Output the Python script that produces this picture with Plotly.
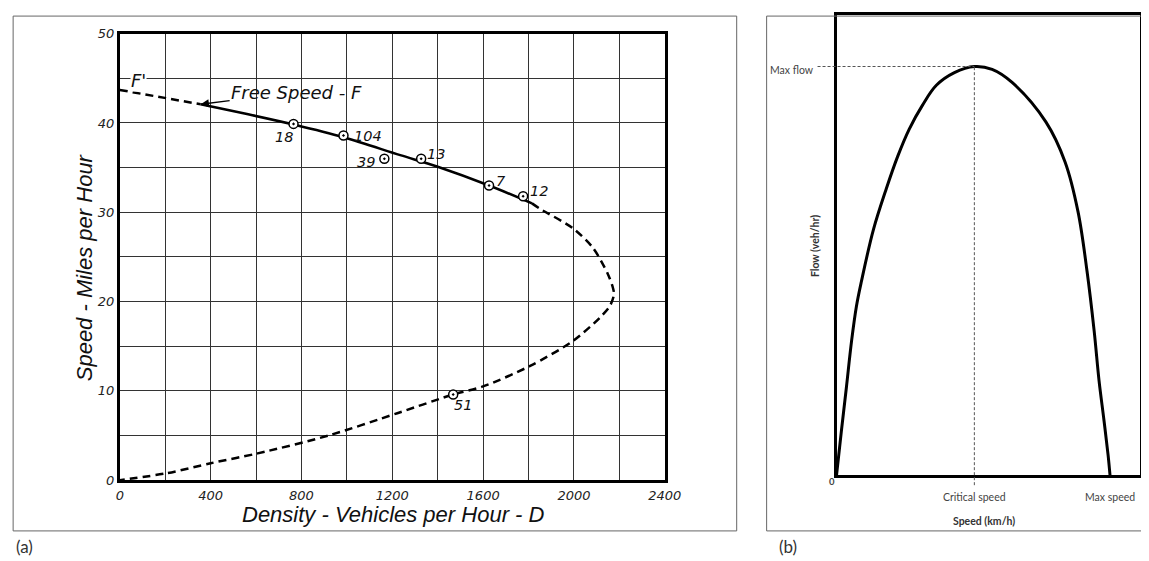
import plotly.graph_objects as go

# (a) Greenshields speed-density diagram
upper_density = [0, 356]
upper_speed = [43.7, 42.1]

solid_density = [356, 560, 770, 985, 1235, 1400, 1626, 1815]
solid_speed = [42.1, 41.0, 39.8, 38.4, 36.4, 35.1, 33.0, 31.0]

lower_density = [1815, 1850, 1996, 2084, 2149, 2172, 2176, 2158, 2114, 1996, 1807,
                 1600, 1468, 1222, 919, 607, 400, 211, 0]
lower_speed = [31.0, 30.4, 28.2, 26.0, 23.1, 21.5, 20.8, 19.5, 18.2, 15.6, 12.8,
               10.5, 9.6, 7.5, 5.0, 3.0, 1.9, 0.8, 0]

pt_labels = ["18", "104", "39", "13", "7", "12", "51"]
pt_density = [765, 985, 1165, 1327, 1626, 1776, 1468]
pt_speed = [39.9, 38.6, 36.0, 36.0, 33.0, 31.8, 9.6]

x_ticks = list(range(0, 2401, 200))
x_ticktext = [str(v) if v % 400 == 0 else "" for v in x_ticks]
y_ticks = list(range(0, 51, 5))
y_ticktext = [str(v) if v % 10 == 0 else "" for v in y_ticks]

# (b) flow-speed diagram
speed_b = [0, 1.8, 3.6, 5.5, 7.3, 9.1, 13.5, 18.2, 22.3, 26.6, 31.4, 36.5, 43.1,
           50.4, 56.9, 64.2, 76.6, 83.6, 88.3, 91.6, 94.2, 96.0, 97.8, 99.3, 100.0]
flow_b = [0, 10.9, 21.4, 32.8, 41.4, 47.4, 60.1, 70.1, 77.9, 84.7, 90.5, 95.4, 98.5,
          100, 99.3, 96.1, 86.4, 76.6, 64.5, 49.9, 35.3, 23.1, 13.4, 4.9, 0]

# the snapshot of the page comes out a little shrunk and offset; the positions
# below are target-picture pixels, mapped back into figure pixels
W, H = 1149, 561
SX, SY = 0.9835, 0.9787
OX, OY = 11, 12.2
hand = "DejaVu Sans"
calib = "Lato"


def px(x):
    return min(max((x - OX) / SX / W, 0.0), 1.0)


def py(y):
    return min(max(1 - (y - OY) / SY / H, 0.0), 1.0)


def ref_x(p):
    return OX + SX * p * W


def ref_y(p):
    return OY + SY * (1 - p) * H


fig = go.Figure()

dash = "8px,5px"
fig.add_trace(go.Scatter(x=upper_density, y=upper_speed, mode="lines",
                         line=dict(color="black", width=2.5, dash=dash),
                         xaxis="x", yaxis="y"))
fig.add_trace(go.Scatter(x=solid_density, y=solid_speed, mode="lines",
                         line=dict(color="black", width=2.5, shape="spline"),
                         xaxis="x", yaxis="y"))
fig.add_trace(go.Scatter(x=lower_density, y=lower_speed, mode="lines",
                         line=dict(color="black", width=2.5, dash=dash,
                                   shape="spline", smoothing=0.8),
                         xaxis="x", yaxis="y"))
fig.add_trace(go.Scatter(x=pt_density, y=pt_speed, mode="markers",
                         marker=dict(symbol="circle", size=9, color="white"),
                         xaxis="x", yaxis="y"))
fig.add_trace(go.Scatter(x=pt_density, y=pt_speed, mode="markers",
                         marker=dict(symbol="circle-open-dot", size=9, color="black",
                                     line=dict(width=1.5, color="black")),
                         xaxis="x", yaxis="y"))

fig.add_trace(go.Scatter(x=speed_b, y=flow_b, mode="lines",
                         line=dict(color="black", width=3, shape="spline", smoothing=1.0),
                         xaxis="x2", yaxis="y2"))

# panel (b) frame: 0 speed at x=837, max speed at x=1111; 0 flow at y=475, max at y=64
b_dom_x = [px(837), px(1148)]
b_dom_y = [py(475), py(10)]
x2_top = (ref_x(b_dom_x[1]) - 837) / ((1111 - 837) / 100)
y2_top = (475 - ref_y(b_dom_y[1])) / ((475 - 64) / 100)

i_max = flow_b.index(max(flow_b))
crit_speed = speed_b[i_max]
max_flow = flow_b[i_max]
max_speed = max(speed_b)

tick_font = dict(family=hand, size=13, style="italic", color="#222")
fig.update_layout(
    width=W, height=H,
    margin=dict(l=0, r=0, t=0, b=0),
    paper_bgcolor="white", plot_bgcolor="white",
    showlegend=False,
    xaxis=dict(domain=[px(119), px(665)], range=[0, 2400], tickvals=x_ticks,
               ticktext=x_ticktext, showgrid=True, gridcolor="#333", gridwidth=1,
               zeroline=False, showline=True, mirror=True, linecolor="black",
               linewidth=3, ticks="", tickfont=tick_font, ticklabelstandoff=1),
    yaxis=dict(domain=[py(480), py(31)], range=[0, 50], tickvals=y_ticks,
               ticktext=y_ticktext, showgrid=True, gridcolor="#333", gridwidth=1,
               zeroline=False, showline=True, mirror=True, linecolor="black",
               linewidth=3, ticks="", tickfont=tick_font),
    xaxis2=dict(domain=b_dom_x, range=[0, x2_top], showgrid=False,
                zeroline=False, showticklabels=False, showline=True, mirror=True,
                linecolor="black", linewidth=3, anchor="y2"),
    yaxis2=dict(domain=b_dom_y, range=[0, y2_top], showgrid=False,
                zeroline=False, showticklabels=False, showline=True, mirror=True,
                linecolor="black", linewidth=3, anchor="x2"),
)

top_box = min(py(7.5), 0.998)
shapes = [
    dict(type="rect", xref="paper", yref="paper", x0=max(px(7.5), 0.001), x1=px(737),
         y0=py(531), y1=top_box, line=dict(color="#666", width=1)),
    dict(type="rect", xref="paper", yref="paper", x0=px(767), x1=1.01,
         y0=py(531), y1=top_box, line=dict(color="#666", width=1)),
    dict(type="line", xref="x2 domain", yref="y2",
         x0=(818 - 837) / (ref_x(b_dom_x[1]) - 837), x1=crit_speed / x2_top,
         y0=max_flow, y1=max_flow, line=dict(color="#555", width=1, dash="3px,2px")),
    dict(type="line", xref="x2", yref="y2 domain", x0=crit_speed, x1=crit_speed,
         y0=-10 / (475 - ref_y(b_dom_y[1])), y1=max_flow / y2_top,
         line=dict(color="#555", width=1, dash="3px,2px")),
]
fig.update_layout(shapes=shapes)


def note(x, y, text, font, xref="paper", yref="paper", **kw):
    d = dict(x=x, y=y, xref=xref, yref=yref, text=text, showarrow=False,
             xanchor="center", yanchor="middle", font=font)
    d.update(kw)
    return d


ann = []
# point labels
offsets = [(-10, -13), (25, -1), (-18, -3), (15, 5), (12, 5), (16, 5), (10, -11)]
lab_font = dict(family=hand, size=14.5, style="italic", color="#111")
for lab, d, s, (dx, dy) in zip(pt_labels, pt_density, pt_speed, offsets):
    ann.append(note(d, s, lab, lab_font, xref="x", yref="y", xshift=dx, yshift=dy))

big_font = dict(family=hand, size=18, style="italic", color="#111")
ann.append(note(px(138), py(78), "F'", big_font, bgcolor="white", borderpad=0))
ann.append(dict(x=solid_density[0], y=solid_speed[0], xref="x", yref="y",
                text="Free Speed - F", showarrow=True, ax=96, ay=-12,
                arrowhead=2, arrowsize=1.1, arrowwidth=1.5, arrowcolor="black",
                font=big_font))
title_font = dict(family="Liberation Sans", size=22, style="italic", color="#111")
ann.append(note(px(84), py(266), "Speed - Miles per Hour", title_font, textangle=-90))
ann.append(note(px(393), py(514), "Density - Vehicles per Hour - D", title_font))

# panel (b) labels
gray = dict(family=calib, size=10.5, color="#444")
ann.append(dict(x=px(816), y=max_flow, xref="paper", yref="y2", text="Max flow",
                xanchor="right", yanchor="middle", yshift=-3, showarrow=False,
                font=gray))
ann.append(note(px(832), py(481), "<b>0</b>", dict(family=calib, size=9.5, color="#444")))
ann.append(note(crit_speed, py(497), "Critical speed", gray, xref="x2"))
ann.append(note(max_speed, py(497), "Max speed", gray, xref="x2"))
dark = dict(family=calib, size=10.5, color="#333")
ann.append(note(px(985), py(521), "<b>Speed (km/h)</b>", dark))
ann.append(note(px(815), py(245), "<b>Flow (veh/hr)</b>", dark, textangle=-90))
panel_font = dict(family=calib, size=17, color="#333")
ann.append(note(px(24), py(547), "(a)", panel_font))
ann.append(note(px(788), py(547), "(b)", panel_font))
fig.update_layout(annotations=ann)

fig.write_html("out.html")
